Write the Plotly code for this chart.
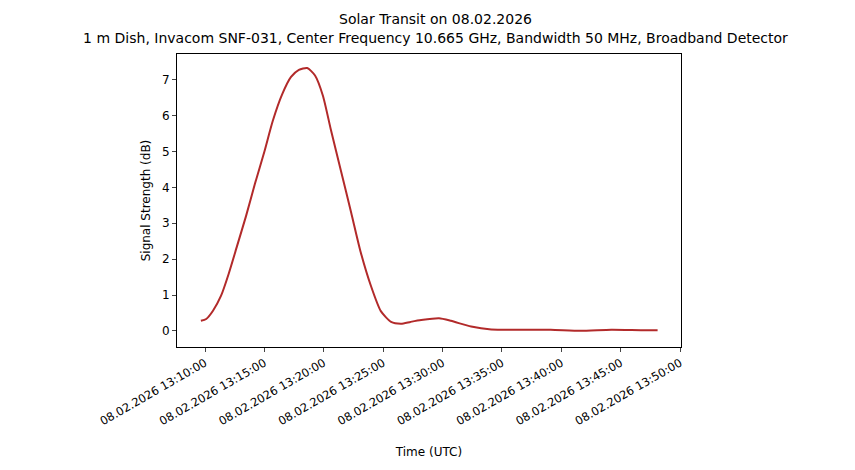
import plotly.graph_objects as go
from datetime import datetime, timedelta

minutes = [-0.35, 0.1, 0.67, 1.35, 2.0, 2.7, 3.45, 4.2, 5.0, 5.7, 6.5, 7.24, 7.9, 8.6, 9.26, 9.93,
           10.6, 11.45, 12.3, 13.1, 13.97, 14.8, 15.66, 16.5, 17.3, 18.2, 19.7, 20.7, 22.4,
           24.1, 26.6, 29.1, 31.6, 34.2, 36.7, 38.1]
signal_db = [0.28, 0.33, 0.56, 0.98, 1.6, 2.37, 3.2, 4.1, 5.0, 5.85, 6.6, 7.08, 7.28, 7.33, 7.12, 6.55,
             5.6, 4.45, 3.3, 2.2, 1.25, 0.55, 0.25, 0.2, 0.25, 0.3, 0.35, 0.28, 0.12,
             0.04, 0.03, 0.03, 0.0, 0.03, 0.02, 0.02]
base = datetime(2026, 2, 8, 13, 10, 0)
times = [base + timedelta(minutes=m) for m in minutes]
tick_vals = [base + timedelta(minutes=5 * i) for i in range(9)]
tick_text = [t.strftime("%d.%m.%Y %H:%M:%S") for t in tick_vals]

fig = go.Figure(go.Scatter(x=times, y=signal_db, mode="lines",
                           line=dict(color="#b22a2a", width=2, shape="spline", smoothing=0.6)))
fig.update_layout(
    width=855, height=470, paper_bgcolor="white", plot_bgcolor="white",
    margin=dict(l=169, r=182, t=46, b=131),
    font=dict(family="DejaVu Sans", color="black", size=11),
    title=dict(text="Solar Transit on 08.02.2026<br>1 m Dish, Invacom SNF-031, Center Frequency 10.665 GHz, Bandwidth 50 MHz, Broadband Detector",
               x=0.5, xanchor="center", y=0.965, yanchor="top", font=dict(size=14)),
    showlegend=False,
)
fig.update_xaxes(range=[base - timedelta(minutes=2.36), base + timedelta(minutes=40.07)],
                 tickvals=tick_vals, ticktext=tick_text, tickangle=-30, ticks="outside", ticklen=4,
                 showline=True, linecolor="black", mirror=True, showgrid=False, zeroline=False,
                 automargin=False, title=dict(text="Time (UTC)", standoff=20, font=dict(size=12)),
                 tickfont=dict(size=11.5))
fig.update_yaxes(range=[-0.45, 7.72], tickvals=list(range(8)), ticks="outside", ticklen=4,
                 showline=True, linecolor="black", mirror=True, showgrid=False, zeroline=False,
                 automargin=False, title=dict(text="Signal Strength (dB)", standoff=8, font=dict(size=12)),
                 tickfont=dict(size=12))
fig.write_html("out.html")
